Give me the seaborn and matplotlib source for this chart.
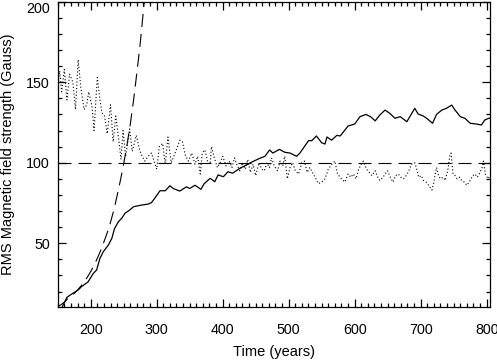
import numpy as np
import pandas as pd
import matplotlib
matplotlib.use("Agg")
import matplotlib.pyplot as plt
import seaborn as sns
from matplotlib.ticker import MultipleLocator

# RMS field, solid curve (years, Gauss)
solid_t = [157, 164, 171, 181, 186, 196, 204, 209, 214, 219, 227, 232, 236, 242, 247,
           252, 259, 265, 277, 287, 292, 297, 305, 313, 320, 325, 335, 345, 350, 358,
           367, 372, 381, 388, 393, 401, 408, 415, 426, 436, 446, 456, 464, 471, 476,
           486, 494, 502, 512, 517, 530, 535, 542, 550, 555, 558, 565, 573, 578, 590,
           600, 608, 617, 624, 631, 638, 646, 653, 661, 669, 679, 685, 691, 696, 704,
           709, 718, 724, 732, 739, 747, 752, 760, 767, 775, 785, 792, 797, 803, 806]
solid_v = [10.6, 16.4, 18.4, 21.0, 23.0, 26.0, 31.3, 33.4, 40.6, 44.7, 49.0, 53.0, 59.0, 63.4, 65.5,
           68.6, 70.6, 72.7, 73.7, 74.3, 75.2, 77.9, 82.6, 82.6, 85.7, 84.0, 82.4, 85.0, 84.0, 86.0,
           83.5, 87.0, 90.3, 88.2, 92.4, 91.3, 94.4, 93.5, 96.5, 98.6, 100.8, 102.7, 104.0, 107.9, 106.0,
           108.3, 106.5, 106.0, 104.0, 106.0, 113.7, 113.7, 116.6, 112.4, 111.6, 116.0, 114.0, 117.0, 116.6, 122.8,
           124.0, 128.6, 130.0, 128.6, 126.0, 129.6, 132.7, 130.7, 127.6, 128.6, 125.5, 129.6, 133.8, 130.3, 129.0,
           127.6, 124.5, 130.0, 132.7, 133.8, 135.8, 132.7, 128.6, 127.6, 124.5, 124.0, 123.4, 126.5, 127.6, 127.6]

# dotted curve
dot_t = [150, 153, 156, 160, 164, 168, 173, 177, 181, 185, 190, 194, 197, 202, 205,
         210, 214, 217, 221, 225, 230, 234, 238, 242, 246, 249, 253, 259, 263, 269,
         274, 278, 282, 287, 292, 296, 300, 304, 309, 313, 317, 322, 328, 335, 339,
         343, 348, 353, 358, 362, 366, 369, 373, 377, 381, 383, 388, 392, 396, 400,
         405, 410, 414, 418, 421, 426, 430, 434, 438, 442, 446, 450, 455, 459, 463,
         467, 471, 474, 478, 483, 487, 491, 494, 498, 502, 506, 510, 515, 520, 524,
         528, 532, 536, 540, 545, 550, 555, 560, 565, 570, 574, 580, 585, 590, 594,
         598, 602, 606, 610, 613, 618, 622, 626, 631, 635, 638, 643, 646, 650, 654,
         658, 662, 666, 670, 674, 678, 681, 686, 691, 694, 697, 701, 704, 708, 712,
         717, 720, 722, 724, 727, 730, 734, 737, 741, 744, 746, 749, 752, 755, 759,
         762, 766, 770, 775, 779, 782, 786, 790, 793, 795, 798, 802, 805]
dot_v = [149, 157, 144, 158, 139, 155, 150, 133, 164, 147, 133, 136, 144, 135, 120,
         153, 139, 131, 129, 118, 136, 113, 129, 116, 102, 120, 104, 121, 107, 117,
         108, 104, 101, 104, 106, 101, 96, 110, 112, 99, 116, 100, 106, 114, 113,
         105, 101, 106, 99, 104, 93, 106, 108, 101, 99, 110, 102, 97, 100, 104,
         98, 101, 97, 103, 99, 95, 100, 96, 102, 94, 99, 92, 100, 96, 95,
         100, 97, 103, 98, 95, 101, 98, 104, 90, 97, 100, 95, 93, 100, 101,
         94, 97, 94, 91, 87, 88, 90, 96, 99, 101, 93, 90, 88, 93, 91,
         93, 90, 96, 99, 101, 96, 94, 92, 95, 91, 89, 91, 93, 95, 91,
         88, 92, 93, 91, 90, 92, 94, 99, 100, 96, 91, 92, 89, 88, 86,
         83, 88, 93, 97, 92, 90, 91, 89, 95, 104, 106, 93, 92, 90, 91,
         89, 88, 86, 89, 92, 93, 91, 94, 97, 101, 93, 90, 92]

# long-dashed growth curve
grow_t = [150, 155, 160, 165, 170, 175, 180, 185, 190, 195, 200, 205, 210, 215, 220,
          225, 230, 235, 240, 245, 250, 255, 260, 265, 270, 275, 280, 285, 290]
grow_v = [10.6, 11.8, 13.4, 15.5, 17.0, 18.8, 20.9, 23.3, 26.0, 29.0, 32.4, 36.3, 40.6, 45.4, 50.8,
          56.5, 63.0, 70.5, 79.5, 89.0, 99.4, 111, 124, 139, 156, 174, 195, 218, 244]

ref_level = 100
x_ticks = [200, 300, 400, 500, 600, 700, 800]
y_ticks = [50, 100, 150, 200]

sns.set_style("ticks")
plt.rcParams['font.family'] = ['Liberation Sans', 'DejaVu Sans']
plt.rcParams['axes.edgecolor'] = 'black'
plt.rcParams['axes.linewidth'] = 0.9

fig = plt.figure(figsize=(4.97, 3.6), dpi=100)
ax = fig.add_axes([0.1161, 0.1481, 0.8698, 0.8472])

# long dashes, given in points and scaled by linewidth
lw_d = 0.8
dash = (0, (13 * 0.72 / lw_d, 7 * 0.72 / lw_d))

sns.lineplot(x=solid_t, y=solid_v, ax=ax, color='black', lw=0.9, sort=False)
sns.lineplot(x=dot_t, y=dot_v, ax=ax, color='black', lw=0.8, linestyle=(0, (1.0, 2.0)), sort=False)
sns.lineplot(x=grow_t, y=grow_v, ax=ax, color='black', lw=lw_d, linestyle=dash, sort=False)
ax.axhline(ref_level, color='black', lw=lw_d, linestyle=dash)

ax.set_xlim(150, 805)
ax.set_ylim(10.6, 200)
ax.set_xticks(x_ticks, labels=[str(v) for v in x_ticks], fontsize=10.3, color='black')
ax.set_yticks(y_ticks, labels=[str(v) for v in y_ticks], fontsize=10.3, color='black')
ax.xaxis.set_minor_locator(MultipleLocator(10))
ax.yaxis.set_minor_locator(MultipleLocator(10))

# inward ticks on all four sides
ax.tick_params(which='major', direction='in', length=5.5, width=0.9, color='black',
               top=True, right=True)
ax.tick_params(which='minor', direction='in', length=3.0, width=0.9, color='black',
               top=True, right=True)
for t in ax.xaxis.get_major_ticks():
    t.set_pad(11.5)
for t in ax.yaxis.get_major_ticks():
    t.set_pad(5.5)

ax.set_xlabel('Time (years)', fontsize=10.5, labelpad=6, color='black')
ax.set_ylabel('RMS Magnetic field strength (Gauss)', fontsize=10.5, labelpad=8, color='black')

# keep the top label inside the figure
for lab in ax.get_yticklabels():
    if lab.get_text() == '200':
        lab.set_verticalalignment('top')

fig.savefig('out.png', dpi=100)
